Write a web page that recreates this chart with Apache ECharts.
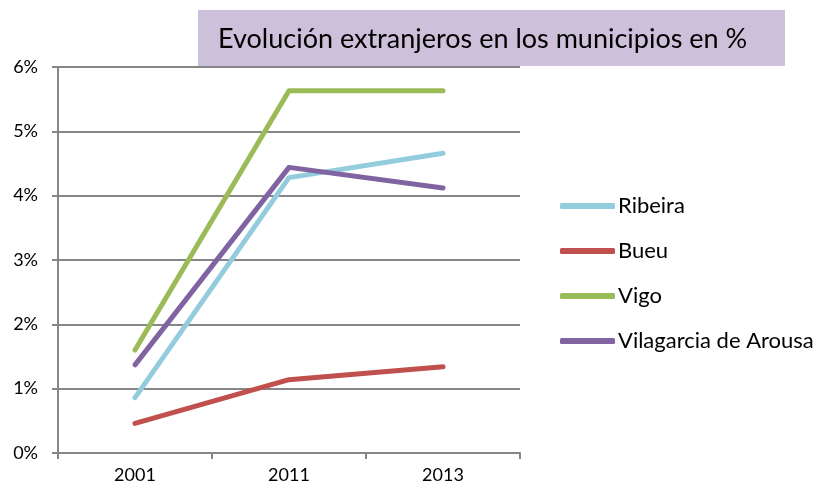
<!DOCTYPE html>
<html>
<head>
<meta charset="utf-8">
<script src="https://cdn.jsdelivr.net/npm/echarts@6/dist/echarts.min.js"></script>
<style>
  html, body { margin: 0; padding: 0; background: #fff; }
  #main { width: 818px; height: 486px; }
</style>
</head>
<body>
<div id="main"></div>
<script>
// datos (en %)
const years = ["2001", "2011", "2013"];
const ribeira = [0.86, 4.28, 4.66];
const bueu = [0.46, 1.14, 1.34];
const vigo = [1.6, 5.63, 5.63];
const vilagarcia = [1.37, 4.44, 4.12];

const titleText = "Evolución extranjeros en los municipios en %";
const font = "Lato, 'Open Sans', sans-serif";

const myChart = echarts.init(document.getElementById("main"));

function lineSerie(name, data, color) {
  return {
    name: name,
    type: "line",
    data: data,
    showSymbol: false,
    symbol: "none",
    color: color,
    lineStyle: { width: 5, color: color, cap: "round", join: "round" },
  };
}

myChart.setOption({
  animation: false,
  textStyle: { fontFamily: font },
  graphic: [
    {
      type: "rect",
      shape: { x: 198, y: 10, width: 587, height: 56 },
      style: { fill: "#CCC0DA" },
      z: 10,
    },
    {
      type: "text",
      x: 218,
      y: 39,
      style: {
        text: titleText,
        font: "27px " + font,
        fill: "#000",
        textVerticalAlign: "middle",
      },
      z: 11,
    },
  ],
  legend: {
    orient: "vertical",
    left: 560,
    top: 195,
    padding: 0,
    itemGap: 23,
    itemWidth: 55,
    itemHeight: 6,
    icon: "roundRect",
    textStyle: { fontSize: 22, color: "#000", fontFamily: font, padding: [0, 0, 0, -2] },
    data: ["Ribeira", "Bueu", "Vigo", "Vilagarcia de Arousa"],
  },
  grid: { left: 58, right: 298, top: 67, bottom: 33, containLabel: false },
  xAxis: {
    type: "category",
    data: years,
    boundaryGap: true,
    axisLine: { lineStyle: { color: "#868686", width: 2 } },
    axisTick: { show: true, length: 6, lineStyle: { color: "#868686", width: 2 } },
    axisLabel: { color: "#000", fontSize: 18, margin: 13 },
  },
  yAxis: {
    type: "value",
    min: 0,
    max: 6,
    interval: 1,
    axisLine: { show: true, lineStyle: { color: "#868686", width: 2 } },
    axisTick: { show: true, length: 6, lineStyle: { color: "#868686", width: 2 } },
    axisLabel: { color: "#000", fontSize: 18, margin: 20, formatter: "{value}%" },
    splitLine: { lineStyle: { color: "#868686", width: 2 } },
  },
  series: [
    lineSerie("Ribeira", ribeira, "#93CDDD"),
    lineSerie("Bueu", bueu, "#C0504D"),
    lineSerie("Vigo", vigo, "#9BBB59"),
    lineSerie("Vilagarcia de Arousa", vilagarcia, "#8064A2"),
  ],
});
</script>
</body>
</html>
